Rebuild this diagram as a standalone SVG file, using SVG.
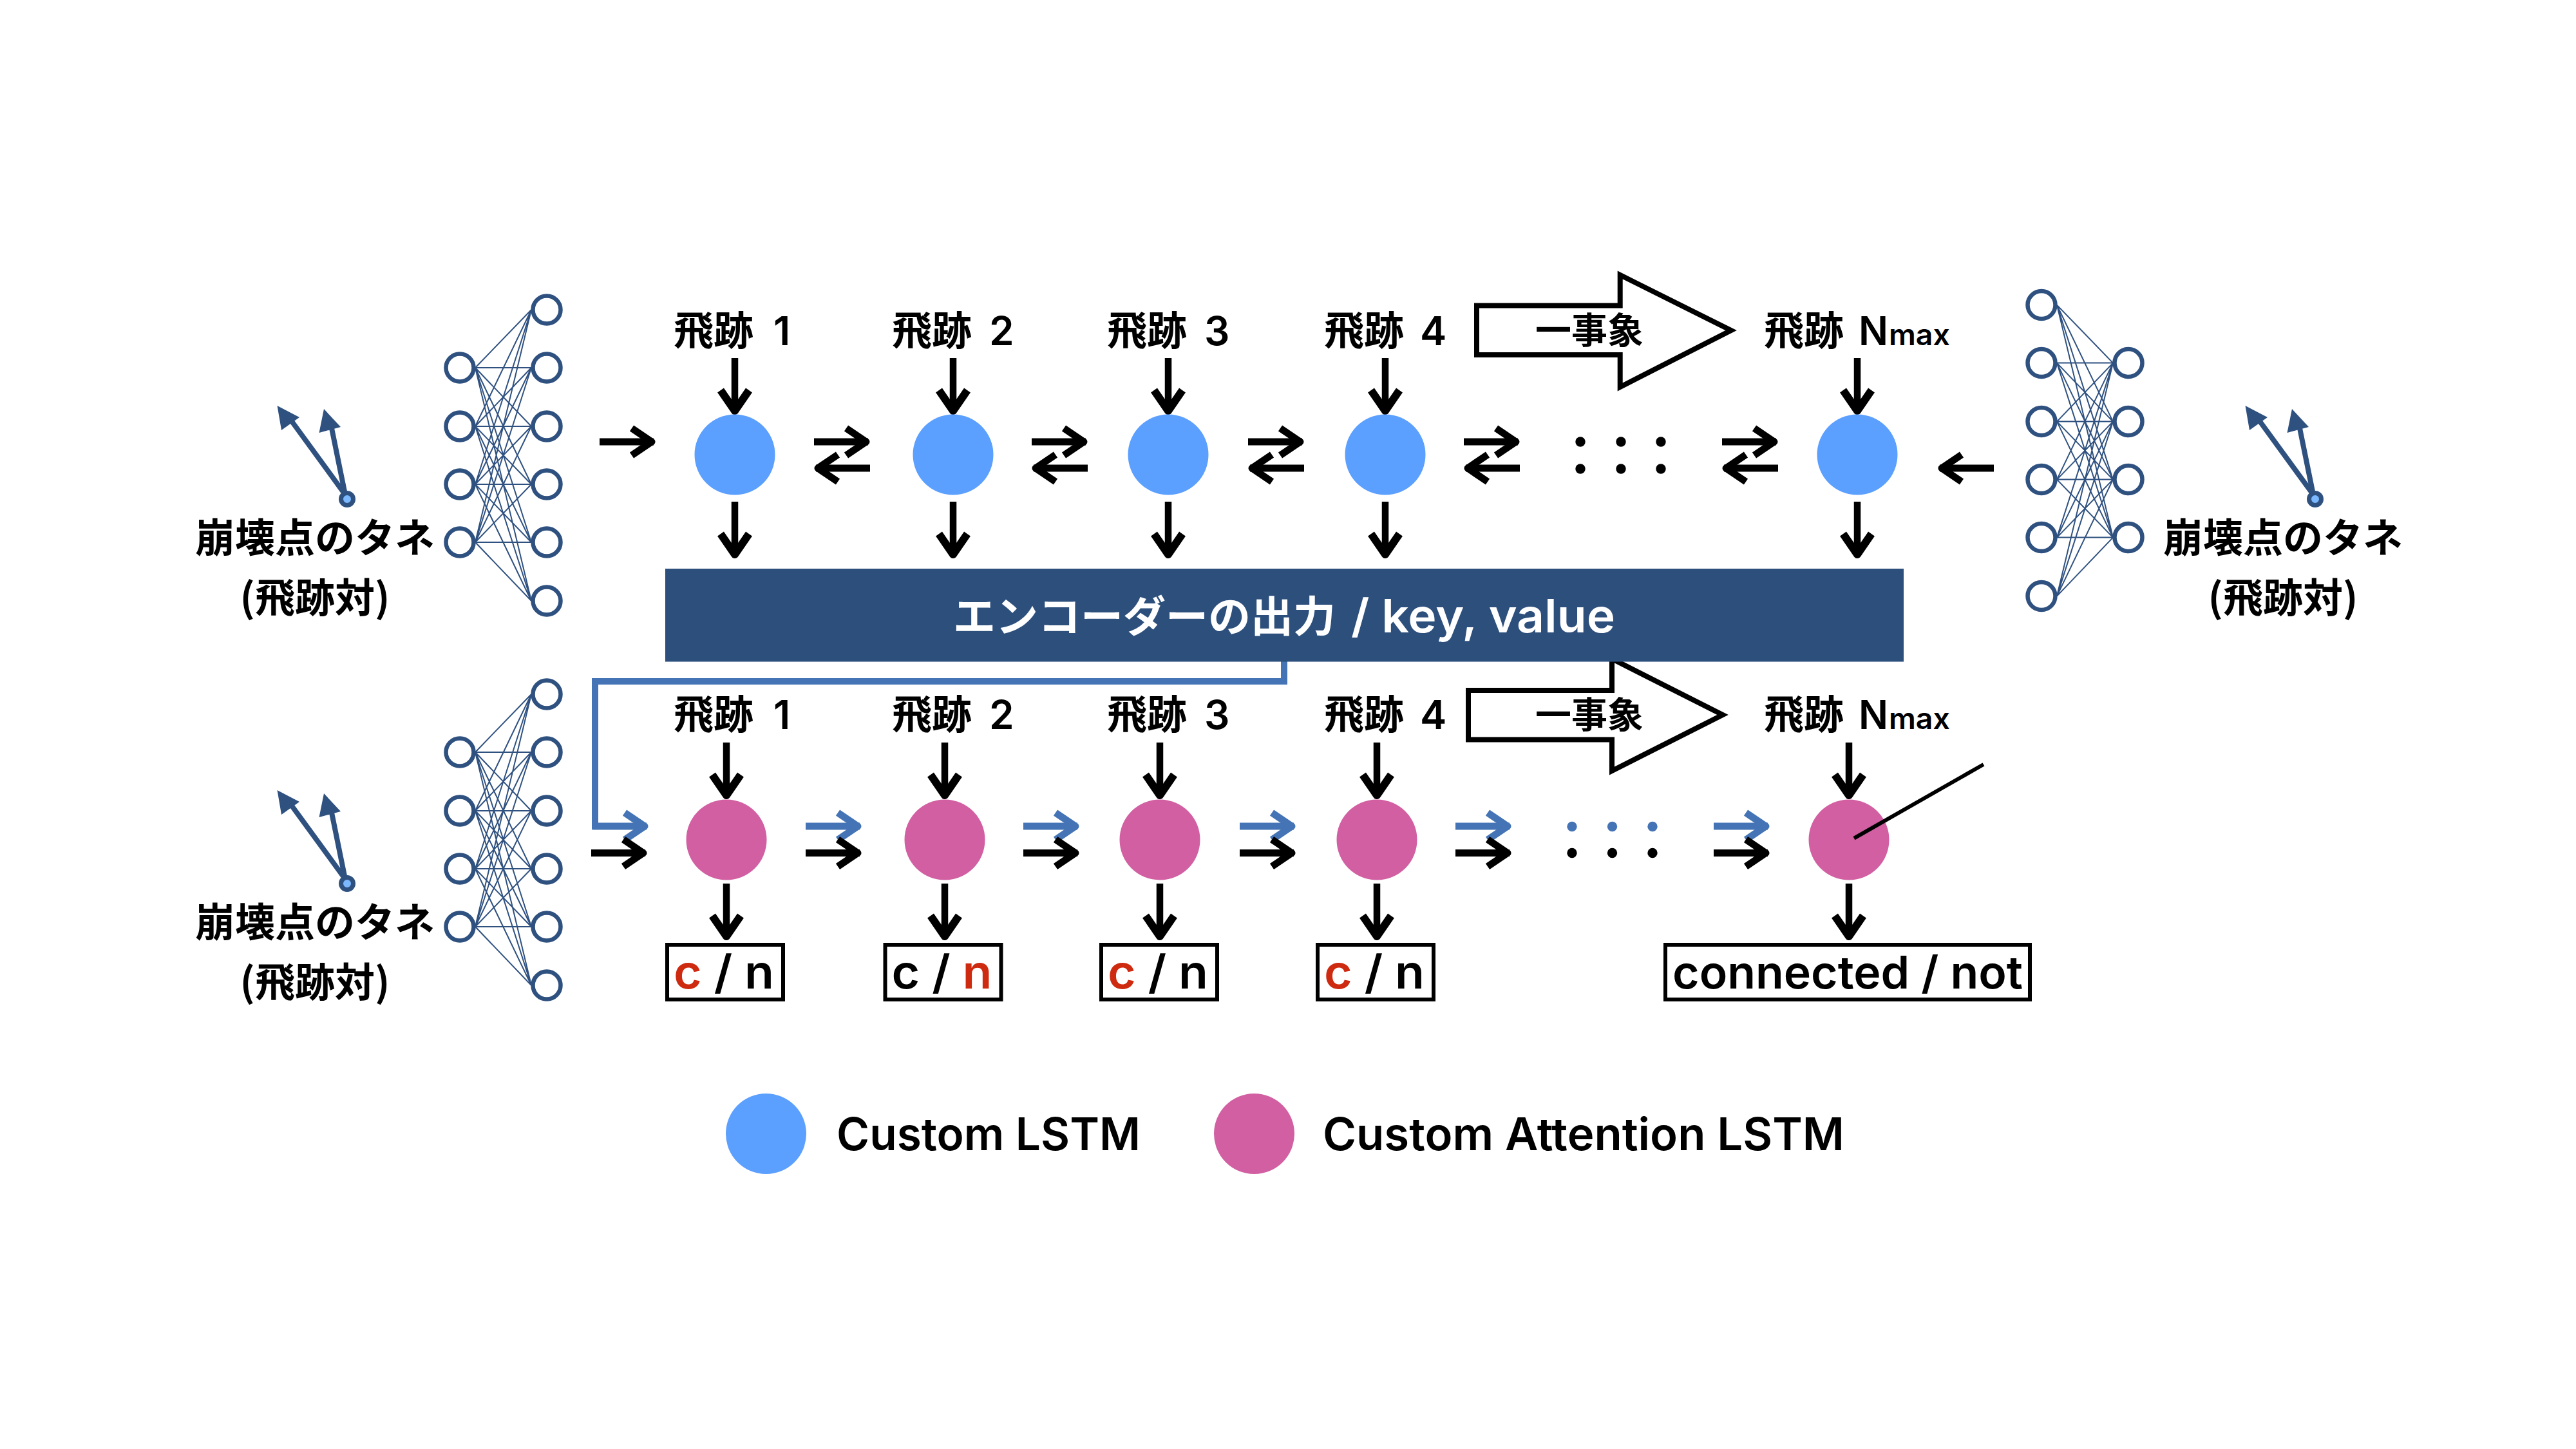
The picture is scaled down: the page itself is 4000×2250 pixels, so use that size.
<svg xmlns="http://www.w3.org/2000/svg" xmlns:xlink="http://www.w3.org/1999/xlink" width="4000" height="2250" viewBox="0 0 4000 2250">
<style>
text{font-family:"Inter","Noto Sans CJK JP",sans-serif;font-weight:600;fill:#000}
.j{font-family:"Noto Sans CJK JP",sans-serif;font-weight:700}
.t{font-size:62px}
.c{text-anchor:middle}
.lg{font-size:70px}
.r{font-size:72px}
.red{fill:#CD2A10}
.blue{fill:#5B9FFF}
.pink{fill:#D15FA2}
.box{fill:#fff;stroke:#000;stroke-width:6}
.big{fill:#fff;stroke:#000;stroke-width:8;stroke-miterlimit:10}
.k{stroke:#000;fill:none}
.b{stroke:#4474B5;fill:none}
.kd{fill:#000}.bd{fill:#4474B5}
.w{font-size:66px;fill:#fff}
.wl{font-size:72px;fill:#fff}
</style>
<defs>
<g id="down" stroke-linejoin="round"><path d="M0 0V84" stroke-width="10.5"/><path d="M-22 50L0 82L22 50" stroke-width="12"/></g>
<g id="right" stroke-linejoin="round"><path d="M0 0H84" stroke-width="11"/><path d="M50 -21L81 0L50 21" stroke-width="11"/></g>
<g id="nn">
<path fill="none" stroke="#2F5180" stroke-width="2" d="M24 90L111 0M24 90L111 90M24 90L111 181M24 90L111 271M24 90L111 361M24 90L111 452M24 181L111 0M24 181L111 90M24 181L111 181M24 181L111 271M24 181L111 361M24 181L111 452M24 271L111 0M24 271L111 90M24 271L111 181M24 271L111 271M24 271L111 361M24 271L111 452M24 361L111 0M24 361L111 90M24 361L111 181M24 361L111 271M24 361L111 361M24 361L111 452"/>
<g fill="#fff" stroke="#2F5180" stroke-width="6.5">
<circle cx="0" cy="90" r="21.5"/><circle cx="0" cy="181" r="21.5"/><circle cx="0" cy="271" r="21.5"/><circle cx="0" cy="361" r="21.5"/>
<circle cx="135" cy="0" r="21.5"/><circle cx="135" cy="90" r="21.5"/><circle cx="135" cy="181" r="21.5"/><circle cx="135" cy="271" r="21.5"/><circle cx="135" cy="361" r="21.5"/><circle cx="135" cy="452" r="21.5"/>
</g>
</g>
<g id="pair">
<path d="M536 768L450 650M536 768L513 655" stroke="#2F5180" stroke-width="8" fill="none"/>
<path d="M430.5 630L437 668L465 648Z M503 635L495.5 672L529 663Z" fill="#2F5180"/>
<circle cx="539" cy="775" r="9.5" fill="#7CB8FF" stroke="#2F5180" stroke-width="7"/>
</g>
</defs>

<g id="network-top-left"><use xlink:href="#nn" href="#nn" transform="translate(714,481)"/></g>
<g id="network-bottom-left"><use xlink:href="#nn" href="#nn" transform="translate(714,1078)"/></g>
<g id="network-top-right"><use xlink:href="#nn" href="#nn" transform="translate(3305,473.6) scale(-1,1)"/></g>
<g id="pair-top-left"><use xlink:href="#pair" href="#pair"/></g>
<g id="pair-bottom-left"><use xlink:href="#pair" href="#pair" transform="translate(0,597)"/></g>
<g id="pair-top-right"><use xlink:href="#pair" href="#pair" transform="translate(3056,0)"/></g>

<g id="seed-labels">
<text class="t c j" x="489" y="858">崩壊点のタネ</text>
<text class="t c j" x="489" y="951">(飛跡対)</text>
<text class="t c j" x="489" y="1455">崩壊点のタネ</text>
<text class="t c j" x="489" y="1548">(飛跡対)</text>
<text class="t c j" x="3545" y="858">崩壊点のタネ</text>
<text class="t c j" x="3545" y="951">(飛跡対)</text>
</g>

<g id="event-arrow-top">
<path class="big" d="M2293 474.6H2515.7V427L2688 513L2515.7 601V551H2293Z"/>
<text class="j" x="2384" y="533" style="font-size:56px">一事象</text>
</g>
<g id="event-arrow-bottom">
<path class="big" d="M2280 1072H2503V1023L2675 1110L2503 1197V1148.5H2280Z"/>
<text class="j" x="2384" y="1130" style="font-size:56px">一事象</text>
</g>

<g id="connectors">
<path class="b" stroke-width="10" stroke-linejoin="miter" d="M1994 1027V1058H924V1283H1000"/>
<g class="b">
<use xlink:href="#right" href="#right" transform="translate(920,1283)"/>
<use xlink:href="#right" href="#right" transform="translate(1251,1283)"/>
<use xlink:href="#right" href="#right" transform="translate(1589,1283)"/>
<use xlink:href="#right" href="#right" transform="translate(1925,1283)"/>
<use xlink:href="#right" href="#right" transform="translate(2260,1283)"/>
<use xlink:href="#right" href="#right" transform="translate(2661,1283)"/>
</g>
<g class="k">
<use xlink:href="#down" href="#down" transform="translate(1141,556)"/>
<use xlink:href="#down" href="#down" transform="translate(1480,556)"/>
<use xlink:href="#down" href="#down" transform="translate(1814,556)"/>
<use xlink:href="#down" href="#down" transform="translate(2151,556)"/>
<use xlink:href="#down" href="#down" transform="translate(2884,556)"/>
<use xlink:href="#down" href="#down" transform="translate(1141,779)"/>
<use xlink:href="#down" href="#down" transform="translate(1480,779)"/>
<use xlink:href="#down" href="#down" transform="translate(1814,779)"/>
<use xlink:href="#down" href="#down" transform="translate(2151,779)"/>
<use xlink:href="#down" href="#down" transform="translate(2884,779)"/>
<use xlink:href="#down" href="#down" transform="translate(1128,1153)"/>
<use xlink:href="#down" href="#down" transform="translate(1467,1153)"/>
<use xlink:href="#down" href="#down" transform="translate(1801,1153)"/>
<use xlink:href="#down" href="#down" transform="translate(2138,1153)"/>
<use xlink:href="#down" href="#down" transform="translate(2871,1153)"/>
<use xlink:href="#down" href="#down" transform="translate(1128,1372)"/>
<use xlink:href="#down" href="#down" transform="translate(1467,1372)"/>
<use xlink:href="#down" href="#down" transform="translate(1801,1372)"/>
<use xlink:href="#down" href="#down" transform="translate(2138,1372)"/>
<use xlink:href="#down" href="#down" transform="translate(2871,1372)"/>
<use xlink:href="#right" href="#right" transform="translate(931,686)"/>
<use xlink:href="#right" href="#right" transform="translate(1264,686)"/>
<use xlink:href="#right" href="#right" transform="translate(1602,686)"/>
<use xlink:href="#right" href="#right" transform="translate(1938,686)"/>
<use xlink:href="#right" href="#right" transform="translate(2273,686)"/>
<use xlink:href="#right" href="#right" transform="translate(2674,686)"/>
<use xlink:href="#right" href="#right" transform="translate(1351,727) scale(-1,1)"/>
<use xlink:href="#right" href="#right" transform="translate(1689,727) scale(-1,1)"/>
<use xlink:href="#right" href="#right" transform="translate(2025,727) scale(-1,1)"/>
<use xlink:href="#right" href="#right" transform="translate(2360,727) scale(-1,1)"/>
<use xlink:href="#right" href="#right" transform="translate(2761,727) scale(-1,1)"/>
<use xlink:href="#right" href="#right" transform="translate(3096,727) scale(-1,1)"/>
<use xlink:href="#right" href="#right" transform="translate(918,1324.5)"/>
<use xlink:href="#right" href="#right" transform="translate(1251,1324.5)"/>
<use xlink:href="#right" href="#right" transform="translate(1589,1324.5)"/>
<use xlink:href="#right" href="#right" transform="translate(1925,1324.5)"/>
<use xlink:href="#right" href="#right" transform="translate(2260,1324.5)"/>
<use xlink:href="#right" href="#right" transform="translate(2661,1324.5)"/>
</g>
</g>

<g id="dots">
<g class="kd"><circle cx="2454" cy="686" r="7.7"/><circle cx="2517" cy="686" r="7.7"/><circle cx="2579" cy="686" r="7.7"/><circle cx="2454" cy="728" r="7.7"/><circle cx="2517" cy="728" r="7.7"/><circle cx="2579" cy="728" r="7.7"/>
<circle cx="2441" cy="1324.5" r="7.7"/><circle cx="2503.5" cy="1324.5" r="7.7"/><circle cx="2566" cy="1324.5" r="7.7"/></g>
<g class="bd"><circle cx="2441" cy="1283.5" r="7.7"/><circle cx="2503.5" cy="1283.5" r="7.7"/><circle cx="2566" cy="1283.5" r="7.7"/></g>
</g>

<g id="encoder-output">
<rect x="1033" y="883" width="1923" height="144.5" fill="#2D4F7C"/>
<text class="w j" x="1480" y="981">エンコーダーの出力</text>
<text class="wl" x="2098" y="982" textLength="410" lengthAdjust="spacingAndGlyphs">/ key, value</text>
</g>

<g id="lstm-1"><circle class="blue" cx="1141" cy="706" r="62.5"/><text class="t j" x="1046" y="536">飛跡</text><text class="t" x="1201" y="536">1</text></g>
<g id="lstm-2"><circle class="blue" cx="1480" cy="706" r="62.5"/><text class="t j" x="1385" y="536">飛跡</text><text class="t" x="1536" y="536">2</text></g>
<g id="lstm-3"><circle class="blue" cx="1814" cy="706" r="62.5"/><text class="t j" x="1719" y="536">飛跡</text><text class="t" x="1870" y="536">3</text></g>
<g id="lstm-4"><circle class="blue" cx="2151" cy="706" r="62.5"/><text class="t j" x="2056" y="536">飛跡</text><text class="t" x="2205" y="536">4</text></g>
<g id="lstm-n"><circle class="blue" cx="2884" cy="706" r="62.5"/><text class="t j" x="2739" y="536">飛跡</text><text class="t" x="2886" y="536" textLength="46" lengthAdjust="spacingAndGlyphs">N</text><text x="2933" y="536" style="font-size:46px" textLength="95" lengthAdjust="spacingAndGlyphs">max</text></g>

<g id="attn-1"><circle class="pink" cx="1128" cy="1304" r="62.5"/><text class="t j" x="1046" y="1132">飛跡</text><text class="t" x="1201" y="1132">1</text></g>
<g id="attn-2"><circle class="pink" cx="1467" cy="1304" r="62.5"/><text class="t j" x="1385" y="1132">飛跡</text><text class="t" x="1536" y="1132">2</text></g>
<g id="attn-3"><circle class="pink" cx="1801" cy="1304" r="62.5"/><text class="t j" x="1719" y="1132">飛跡</text><text class="t" x="1870" y="1132">3</text></g>
<g id="attn-4"><circle class="pink" cx="2138" cy="1304" r="62.5"/><text class="t j" x="2056" y="1132">飛跡</text><text class="t" x="2205" y="1132">4</text></g>
<g id="attn-n"><circle class="pink" cx="2871" cy="1304" r="62.5"/><text class="t j" x="2739" y="1132">飛跡</text><text class="t" x="2886" y="1132" textLength="46" lengthAdjust="spacingAndGlyphs">N</text><text x="2933" y="1132" style="font-size:46px" textLength="95" lengthAdjust="spacingAndGlyphs">max</text>
<path d="M2879 1301.6L3080 1187" stroke="#000" stroke-width="6" fill="none"/></g>

<g id="out-1"><rect class="box" x="1036" y="1467" width="180" height="85"/><text class="r" x="1046" y="1535" textLength="156" lengthAdjust="spacingAndGlyphs"><tspan class="red">c</tspan> / n</text></g>
<g id="out-2"><rect class="box" x="1374.5" y="1467" width="180" height="85"/><text class="r" x="1384.5" y="1535" textLength="156" lengthAdjust="spacingAndGlyphs">c / <tspan class="red">n</tspan></text></g>
<g id="out-3"><rect class="box" x="1710" y="1467" width="180" height="85"/><text class="r" x="1720" y="1535" textLength="156" lengthAdjust="spacingAndGlyphs"><tspan class="red">c</tspan> / n</text></g>
<g id="out-4"><rect class="box" x="2046" y="1467" width="180" height="85"/><text class="r" x="2056" y="1535" textLength="156" lengthAdjust="spacingAndGlyphs"><tspan class="red">c</tspan> / n</text></g>
<g id="out-n"><rect class="box" x="2586" y="1467" width="566" height="85"/><text style="font-size:70px" x="2597" y="1535" textLength="544" lengthAdjust="spacingAndGlyphs">connected / not</text></g>

<g id="legend-lstm"><circle class="blue" cx="1189.5" cy="1760.5" r="62.5"/><text class="lg" x="1299" y="1786" textLength="472" lengthAdjust="spacingAndGlyphs">Custom LSTM</text></g>
<g id="legend-attn"><circle class="pink" cx="1947.5" cy="1760.5" r="62.5"/><text class="lg" x="2054" y="1786" textLength="810" lengthAdjust="spacingAndGlyphs">Custom Attention LSTM</text></g>
</svg>
